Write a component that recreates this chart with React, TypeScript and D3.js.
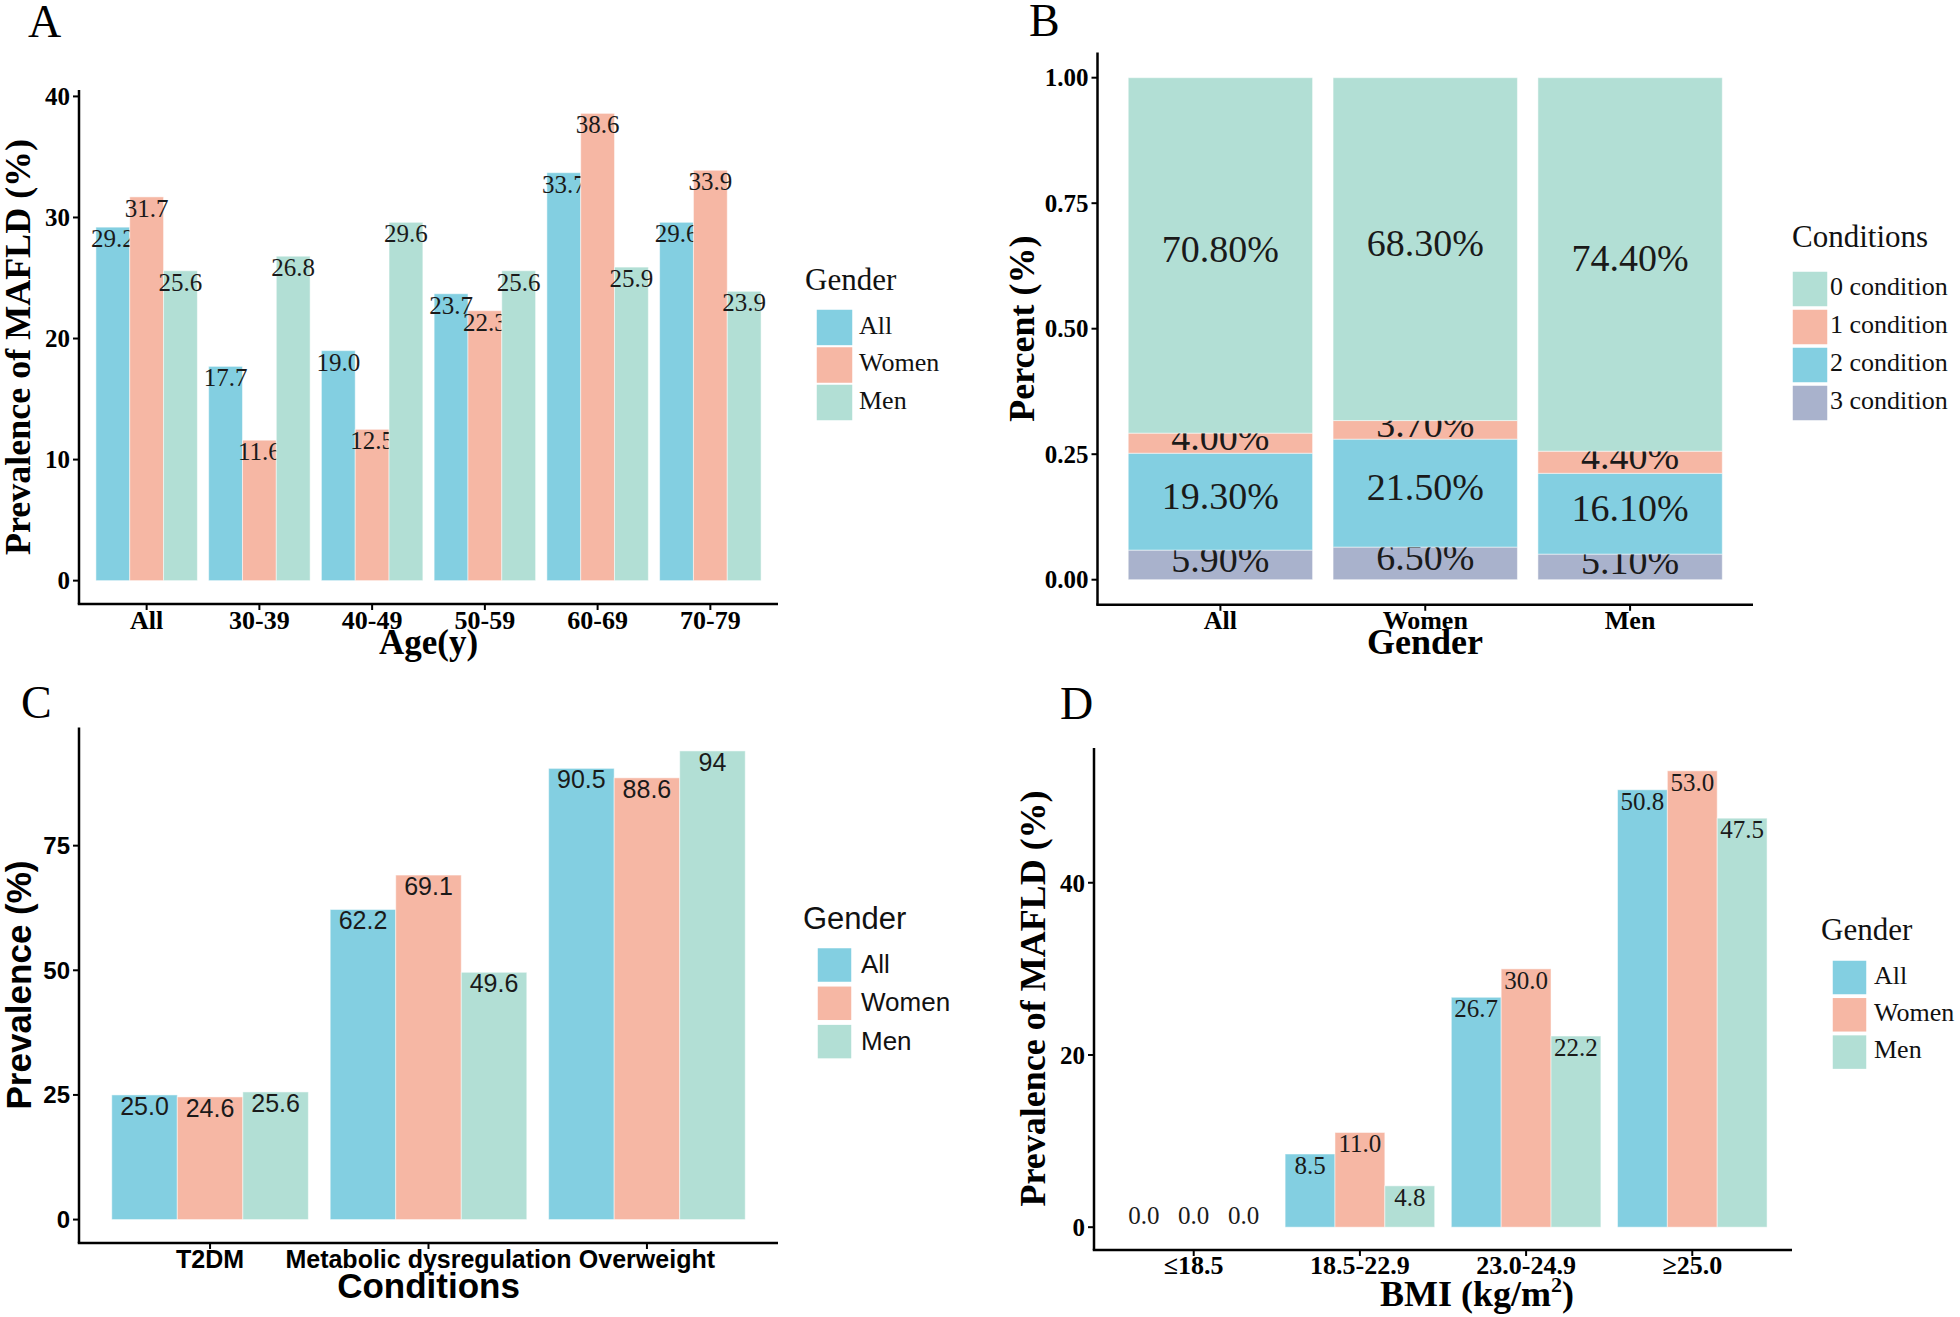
import React from "react";
import * as d3 from "d3";

// ---------- Data ----------
const seriesNames = ["All", "Women", "Men"];

const ageGroups = ["All", "30-39", "40-49", "50-59", "60-69", "70-79"];
const ageAll = [29.2, 17.7, 19.0, 23.7, 33.7, 29.6];
const ageWomen = [31.7, 11.6, 12.5, 22.3, 38.6, 33.9];
const ageMen = [25.6, 26.8, 29.6, 25.6, 25.9, 23.9];
const ageTicks = [0, 10, 20, 30, 40];

const genderGroups = ["All", "Women", "Men"];
const conditionNames = ["0 condition", "1 condition", "2 condition", "3 condition"];
const cond0 = [70.8, 68.3, 74.4];
const cond1 = [4.0, 3.7, 4.4];
const cond2 = [19.3, 21.5, 16.1];
const cond3 = [5.9, 6.5, 5.1];
const pctTicks = [0, 0.25, 0.5, 0.75, 1.0];

const condGroups = ["T2DM", "Metabolic dysregulation", "Overweight"];
const condAll = [25.0, 62.2, 90.5];
const condWomen = [24.6, 69.1, 88.6];
const condMen = [25.6, 49.6, 94];
const condAllLabels = ["25.0", "62.2", "90.5"];
const condWomenLabels = ["24.6", "69.1", "88.6"];
const condMenLabels = ["25.6", "49.6", "94"];
const condTicks = [0, 25, 50, 75];

const bmiGroups = ["≤18.5", "18.5-22.9", "23.0-24.9", "≥25.0"];
const bmiAll = [0.0, 8.5, 26.7, 50.8];
const bmiWomen = [0.0, 11.0, 30.0, 53.0];
const bmiMen = [0.0, 4.8, 22.2, 47.5];
const bmiTicks = [0, 20, 40];

// ---------- Styles ----------
const SERIF = "'Liberation Serif', 'Times New Roman', serif";
const SANS = "'Liberation Sans', Arial, sans-serif";
const genderColor = d3.scaleOrdinal<string, string>().domain(seriesNames).range(["#83CFE1", "#F6B7A4", "#B2DFD5"]);
const condColor = d3
  .scaleOrdinal<string, string>()
  .domain(conditionNames)
  .range(["#B2DFD5", "#F6B7A4", "#83CFE1", "#A9B2CC"]);

type Series = { name: string; values: number[]; labels: string[] };

function bandScale(cats: string[], x0: number, x1: number) {
  return d3.scaleBand<string>().domain(cats).range([x0, x1]).paddingInner(0.1).paddingOuter(0.15);
}
function expandedY(maxV: number, bottom: number, top: number) {
  const pad = maxV * 0.05;
  return d3.scaleLinear().domain([-pad, maxV + pad]).range([bottom, top]);
}

function Axes(props: {
  x0: number; x1: number; top: number; bottom: number;
  y: d3.ScaleLinear<number, number>; ticks: number[]; fmt: (v: number) => string;
  x: d3.ScaleBand<string>; cats: string[]; font: string; tickSize: number; xLabelBase: number;
}) {
  const { x0, x1, top, bottom, y, ticks, fmt, x, cats, font, tickSize, xLabelBase } = props;
  return (
    <g>
      <line x1={x0} y1={top} x2={x0} y2={bottom} stroke="#000" strokeWidth={2.5} />
      <line x1={x0 - 1.25} y1={bottom} x2={x1} y2={bottom} stroke="#000" strokeWidth={2.5} />
      {ticks.map((t) => (
        <g key={"yt" + t}>
          <line x1={x0 - 6} x2={x0} y1={y(t)} y2={y(t)} stroke="#000" strokeWidth={2} />
          <text x={x0 - 9} y={y(t)} dy="0.35em" textAnchor="end" fontFamily={font} fontWeight="bold" fontSize={tickSize} fill="#000">
            {fmt(t)}
          </text>
        </g>
      ))}
      {cats.map((c) => {
        const cx = (x(c) as number) + x.bandwidth() / 2;
        return (
          <g key={"xt" + c}>
            <line x1={cx} x2={cx} y1={bottom} y2={bottom + 6} stroke="#000" strokeWidth={2} />
            <text x={cx} y={xLabelBase} textAnchor="middle" fontFamily={font} fontWeight="bold" fontSize={tickSize + 1} fill="#000">
              {c}
            </text>
          </g>
        );
      })}
    </g>
  );
}

function Legend(props: {
  x: number; titleBase: number; title: string; keyX: number; keyY0: number; keyStep: number; keySize: number;
  labelX: number; names: string[]; color: (s: string) => string; font: string; titleSize: number; labelSize: number; labelDy: number;
}) {
  const p = props;
  return (
    <g>
      <text x={p.x} y={p.titleBase} fontFamily={p.font} fontSize={p.titleSize} fill="#111">
        {p.title}
      </text>
      {p.names.map((n, i) => (
        <g key={n}>
          <rect x={p.keyX} y={p.keyY0 + i * p.keyStep} width={p.keySize} height={p.keySize} fill={p.color(n)} stroke="#fff" strokeWidth={1.5} />
          <text x={p.labelX} y={p.keyY0 + i * p.keyStep + p.keySize / 2 + p.labelDy} fontFamily={p.font} fontSize={p.labelSize} fill="#111">
            {n}
          </text>
        </g>
      ))}
    </g>
  );
}

function GroupedPanel(props: {
  x0: number; x1: number; top: number; bottom: number; cats: string[]; series: Series[]; ticks: number[];
  font: string; valueSize: number; tickSize: number; xLabelBase: number;
}) {
  const { x0, x1, top, bottom, cats, series, ticks, font, valueSize, tickSize, xLabelBase } = props;
  const x = bandScale(cats, x0, x1);
  const inner = d3.scaleBand<string>().domain(series.map((s) => s.name)).range([0, x.bandwidth()]);
  const maxV = d3.max(series.flatMap((s) => s.values)) as number;
  const y = expandedY(maxV, bottom, top);
  return (
    <g>
      {cats.map((c, ci) => (
        <g key={c} transform={`translate(${x(c)},0)`}>
          {series.map((s) => {
            const v = s.values[ci];
            const bx = inner(s.name) as number;
            return (
              <g key={s.name}>
                <rect x={bx} y={y(v)} width={inner.bandwidth()} height={Math.max(0, y(0) - y(v))} fill={genderColor(s.name)} stroke="#fff" strokeOpacity={0.5} strokeWidth={1} />
                <text x={bx + inner.bandwidth() / 2} y={v === 0 ? y(0) - 3 : y(v) + 20} textAnchor="middle" fontFamily={font} fontSize={valueSize} fill="#1a1a1a">
                  {s.labels[ci]}
                </text>
              </g>
            );
          })}
        </g>
      ))}
      <Axes x0={x0} x1={x1} top={top} bottom={bottom} y={y} ticks={ticks} fmt={(t) => String(t)} x={x} cats={cats} font={font} tickSize={tickSize} xLabelBase={xLabelBase} />
    </g>
  );
}

function StackedPanel() {
  const x0 = 1097.5, x1 = 1753, top = 52.6, bottom = 604.8;
  const rows = genderGroups.map((g, i) => ({
    group: g,
    "3 condition": cond3[i] / 100,
    "2 condition": cond2[i] / 100,
    "1 condition": cond1[i] / 100,
    "0 condition": cond0[i] / 100,
  }));
  const keys = ["3 condition", "2 condition", "1 condition", "0 condition"];
  const stacked = d3.stack<any>().keys(keys)(rows);
  const x = bandScale(genderGroups, x0, x1);
  const y = expandedY(1, bottom, top);
  const fmt = d3.format(".2f");
  return (
    <g>
      {stacked.map((layer) => (
        <g key={layer.key}>
          {layer.map((d, i) => {
            const g = genderGroups[i];
            const bx = x(g) as number;
            const mid = (d[0] + d[1]) / 2;
            return (
              <g key={g}>
                <rect x={bx} y={y(d[1])} width={x.bandwidth()} height={y(d[0]) - y(d[1])} fill={condColor(layer.key)} stroke="#fff" strokeOpacity={0.5} strokeWidth={1} />
                <text x={bx + x.bandwidth() / 2} y={y(mid) + 7} textAnchor="middle" fontFamily={SERIF} fontSize={38} fill="#1a1a1a">
                  {((d[1] - d[0]) * 100).toFixed(2) + "%"}
                </text>
              </g>
            );
          })}
        </g>
      ))}
      <Axes x0={x0} x1={x1} top={top} bottom={bottom} y={y} ticks={pctTicks} fmt={(t) => fmt(t)} x={x} cats={genderGroups} font={SERIF} tickSize={25} xLabelBase={629} />
    </g>
  );
}

export default function App() {
  const fmt1 = d3.format(".1f");
  const ageSeries: Series[] = [
    { name: "All", values: ageAll, labels: ageAll.map(fmt1) },
    { name: "Women", values: ageWomen, labels: ageWomen.map(fmt1) },
    { name: "Men", values: ageMen, labels: ageMen.map(fmt1) },
  ];
  const condSeries: Series[] = [
    { name: "All", values: condAll, labels: condAllLabels },
    { name: "Women", values: condWomen, labels: condWomenLabels },
    { name: "Men", values: condMen, labels: condMenLabels },
  ];
  const bmiSeries: Series[] = [
    { name: "All", values: bmiAll, labels: bmiAll.map(fmt1) },
    { name: "Women", values: bmiWomen, labels: bmiWomen.map(fmt1) },
    { name: "Men", values: bmiMen, labels: bmiMen.map(fmt1) },
  ];
  return (
    <svg width={1960} height={1317} style={{ position: "absolute", left: 0, top: 0, background: "#fff" }}>
      <rect x={0} y={0} width={1960} height={1317} fill="#fff" />
      {/* Panel letters */}
      <text x={28} y={37} fontFamily={SERIF} fontSize={46} fill="#000">A</text>
      <text x={1029} y={36} fontFamily={SERIF} fontSize={46} fill="#000">B</text>
      <text x={21} y={718} fontFamily={SERIF} fontSize={46} fill="#000">C</text>
      <text x={1060} y={719} fontFamily={SERIF} fontSize={46} fill="#000">D</text>

      {/* Panel A */}
      <GroupedPanel x0={79} x1={778} top={90} bottom={604} cats={ageGroups} series={ageSeries} ticks={ageTicks} font={SERIF} valueSize={25} tickSize={25} xLabelBase={629} />
      <text x={428.5} y={654} textAnchor="middle" fontFamily={SERIF} fontWeight="bold" fontSize={35} fill="#000">Age(y)</text>
      <text transform="translate(30,347) rotate(-90)" textAnchor="middle" fontFamily={SERIF} fontWeight="bold" fontSize={36} fill="#000">Prevalence of MAFLD (%)</text>
      <Legend x={805} titleBase={290} title="Gender" keyX={816} keyY0={309} keyStep={37.5} keySize={37} labelX={859} names={seriesNames} color={genderColor} font={SERIF} titleSize={31} labelSize={26} labelDy={6} />

      {/* Panel B */}
      <StackedPanel />
      <text x={1425} y={654} textAnchor="middle" fontFamily={SERIF} fontWeight="bold" fontSize={36} fill="#000">Gender</text>
      <text transform="translate(1034,328.7) rotate(-90)" textAnchor="middle" fontFamily={SERIF} fontWeight="bold" fontSize={36} fill="#000">Percent (%)</text>
      <Legend x={1792} titleBase={247} title="Conditions" keyX={1792} keyY0={271} keyStep={38} keySize={36} labelX={1830} names={conditionNames} color={condColor} font={SERIF} titleSize={31} labelSize={26} labelDy={6} />

      {/* Panel C */}
      <GroupedPanel x0={79} x1={778} top={727.5} bottom={1243} cats={condGroups} series={condSeries} ticks={condTicks} font={SANS} valueSize={25} tickSize={24} xLabelBase={1268} />
      <text x={428.5} y={1298} textAnchor="middle" fontFamily={SANS} fontWeight="bold" fontSize={35} fill="#000">Conditions</text>
      <text transform="translate(31,985) rotate(-90)" textAnchor="middle" fontFamily={SANS} fontWeight="bold" fontSize={35} fill="#000">Prevalence (%)</text>
      <Legend x={803} titleBase={929} title="Gender" keyX={817} keyY0={947.5} keyStep={38.3} keySize={35} labelX={861} names={seriesNames} color={genderColor} font={SANS} titleSize={31} labelSize={26} labelDy={8} />

      {/* Panel D */}
      <GroupedPanel x0={1094} x1={1792} top={748} bottom={1250} cats={bmiGroups} series={bmiSeries} ticks={bmiTicks} font={SERIF} valueSize={25} tickSize={25} xLabelBase={1274} />
      <text x={1477} y={1306} textAnchor="middle" fontFamily={SERIF} fontWeight="bold" fontSize={36} fill="#000">
        BMI (kg/m<tspan fontSize={22} dy={-14}>2</tspan><tspan dy={14}>)</tspan>
      </text>
      <text transform="translate(1045,998.5) rotate(-90)" textAnchor="middle" fontFamily={SERIF} fontWeight="bold" fontSize={36} fill="#000">Prevalence of MAFLD (%)</text>
      <Legend x={1821} titleBase={940} title="Gender" keyX={1832} keyY0={960} keyStep={37.3} keySize={35} labelX={1874} names={seriesNames} color={genderColor} font={SERIF} titleSize={31} labelSize={26} labelDy={6} />
    </svg>
  );
}
